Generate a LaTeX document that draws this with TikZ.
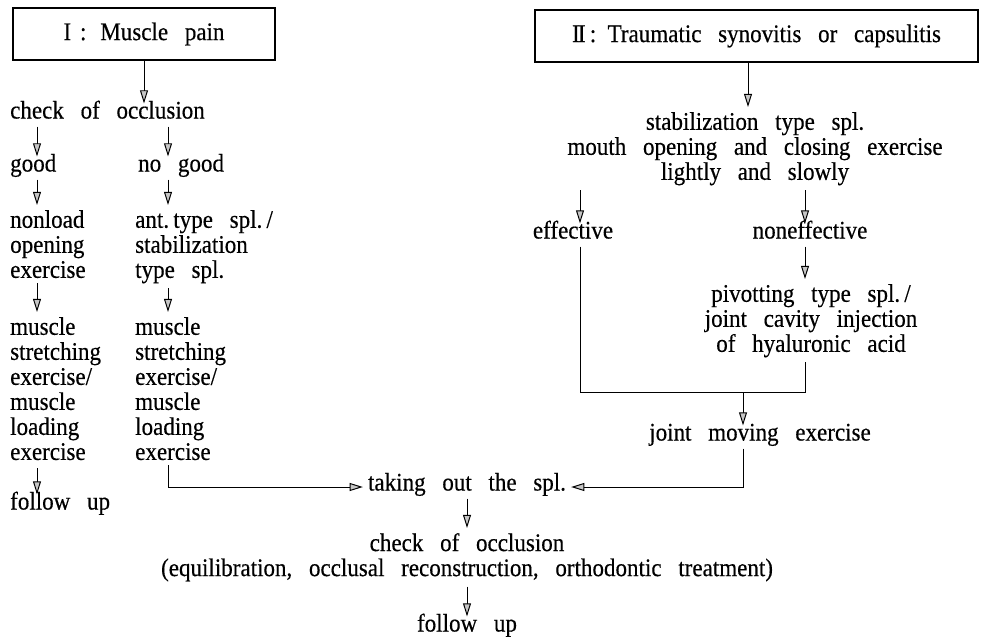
\documentclass[tikz,border=0pt]{standalone}
\usepackage{fontspec}
\setmainfont{Liberation Serif}[FakeStretch=0.91,FakeBold=0.4]
\usetikzlibrary{arrows.meta}

\newcommand{\flowfont}{\fontsize{18}{17.8}\selectfont\spaceskip=0.66em plus 0.1em minus 0.05em\relax}

\tikzset{
	txt/.style={font=\flowfont, inner sep=3.5pt, text height=0.7em, text depth=0.2em},
	blk/.style={font=\flowfont, inner sep=3.5pt},
	hdbox/.style={draw, line width=1.1pt, font=\flowfont, minimum height=1.3cm, inner sep=0pt},
	arr/.style={line width=0.7pt, -{Triangle[length=3.3mm,width=2mm,line width=0.7pt,fill=gray!45]}},
	conn/.style={line width=0.7pt}
}

\begin{document}
\begin{tikzpicture}[x=0.025cm, y=-0.025cm]
	\useasboundingbox (0,0) rectangle (984,643);
	
	% headings
	\node[hdbox, minimum width=6.55cm] (pain) at (144,34) {I\hspace{0.35em}:\hspace{0.55em}Muscle pain};
	\node[hdbox, minimum width=11.075cm] (syno) at (756.5,36) {I\kern-0.07em I\,:\hspace{0.45em}Traumatic synovitis or capsulitis};
	
	% column lines of the arrows
	\coordinate (colL) at (37,0);
	\coordinate (colM) at (168,0);
	\coordinate (colS) at (748,0);
	\coordinate (colE) at (580,0);
	\coordinate (colN) at (805,0);
	\coordinate (colJ) at (743,0);
	
	% I: muscle pain
	\node[txt, anchor=west] (occl) at (5,115) {check of occlusion};
	\node[txt, anchor=west] (good) at (5,168) {good};
	\node[txt, anchor=west] (nogood) at (133,168) {no good};
	\node[blk, anchor=north west, align=left] (nonload) at (5,205) {nonload\\opening\\exercise};
	\node[blk, anchor=north west, align=left] (antspl) at (130,205) {ant.\,type spl.\,/\\stabilization\\type spl.};
	\node[blk, anchor=north west, align=left] (stretchL) at (5,312) {muscle\\stretching\\exercise/\\muscle\\loading\\exercise};
	\node[blk, anchor=north west, align=left] (stretchM) at (130,312) {muscle\\stretching\\exercise/\\muscle\\loading\\exercise};
	\node[txt, anchor=west] (followL) at (5,506) {follow up};
	
	\draw[arr] (pain.south) -- (pain.south |- occl.north);
	\draw[arr] (occl.south -| colL) -- (good.north -| colL);
	\draw[arr] (occl.south -| colM) -- (nogood.north -| colM);
	\draw[arr] (good.south -| colL) -- (nonload.north -| colL);
	\draw[arr] (nogood.south -| colM) -- (antspl.north -| colM);
	\draw[arr] (nonload.south -| colL) -- (stretchL.north -| colL);
	\draw[arr] (antspl.south -| colM) -- (stretchM.north -| colM);
	\draw[arr] ([yshift=-2pt]stretchL.south -| colL) -- (followL.north -| colL);
	
	% II: synovitis or capsulitis
	\node[blk, anchor=north, align=center] (stab) at (755,107) {stabilization type spl.\\mouth opening and closing exercise\\lightly and slowly};
	\node[txt] (eff) at (573,235) {effective};
	\node[txt] (noneff) at (810,235) {noneffective};
	\node[blk, anchor=north, align=center] (pivot) at (811,279) {pivotting type spl.\,/\\joint cavity injection\\of hyaluronic acid};
	\coordinate (merge) at (743,392);
	\node[txt] (joint) at (760,437) {joint moving exercise};
	
	\draw[arr] (syno.south -| colS) -- (stab.north -| colS);
	\draw[arr] (stab.south -| colE) -- (eff.north -| colE);
	\draw[arr] (stab.south -| colN) -- (noneff.north -| colN);
	\draw[arr] (noneff.south -| colN) -- (pivot.north -| colN);
	\draw[conn] (eff.south -| colE) |- (merge -| colN) -- (pivot.south -| colN);
	\draw[arr] (merge) -- (joint.north -| merge);
	
	% common end
	\node[txt] (taking) at (467,487) {taking out the spl.};
	\node[blk, anchor=north, align=center] (occl2) at (467,528) {check of occlusion\\(equilibration, occlusal reconstruction, orthodontic treatment)};
	\node[txt] (followB) at (467,628) {follow up};
	
	\draw[arr] (stretchM.south -| colM) |- (taking.west);
	\draw[arr] (joint.south -| colJ) |- (taking.east);
	\draw[arr] (taking) -- (occl2);
	\draw[arr] (occl2) -- (followB);
	
\end{tikzpicture}
\end{document}
